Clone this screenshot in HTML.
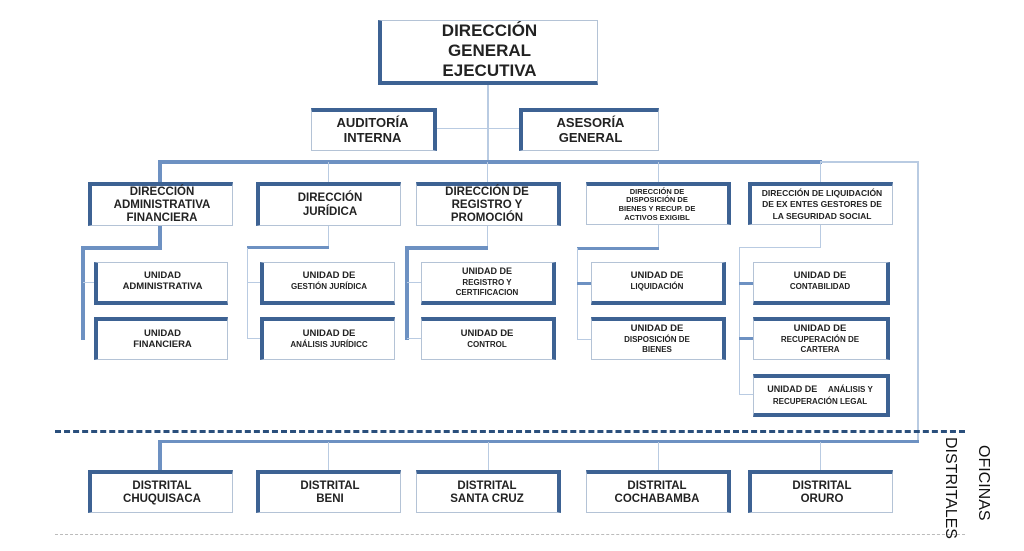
<!DOCTYPE html>
<html><head><meta charset="utf-8"><style>
body{margin:0;width:1024px;height:551px;background:#fff;position:relative;overflow:hidden;font-family:"Liberation Sans",Arial,sans-serif}
.b{position:absolute;box-sizing:border-box;border:1px solid #b4c3d6;display:flex;align-items:center;justify-content:center;text-align:center;font-weight:bold;color:#222;line-height:1.15;background:#fff}
.b>div{text-align:center}
.t{border-top:4px solid #3d6293}.l{border-left:4px solid #3d6293}.r{border-right:4px solid #3d6293}.bo{border-bottom:4px solid #3d6293}
.h{position:absolute;background:#6d91c2}
.th{position:absolute;background:#b9cbe2}
</style></head><body>
<!-- connectors -->
<div class="th" style="left:487px;top:84px;width:2px;height:78px"></div>
<div class="th" style="left:436px;top:128px;width:83px;height:1px"></div>
<div class="h" style="left:158px;top:160px;width:664px;height:4px"></div>
<div class="th" style="left:820px;top:161px;width:99px;height:2px"></div>
<div class="th" style="left:917px;top:161px;width:2px;height:281px"></div>
<div class="h" style="left:158px;top:160px;width:4px;height:24px"></div>
<div class="th" style="left:328px;top:162px;width:1px;height:21px"></div>
<div class="th" style="left:487px;top:162px;width:1px;height:21px"></div>
<div class="th" style="left:658px;top:162px;width:1px;height:21px"></div>
<div class="th" style="left:820px;top:162px;width:1px;height:21px"></div>
<!-- col1 -->
<div class="h" style="left:158px;top:225px;width:4px;height:24px"></div>
<div class="h" style="left:81px;top:246px;width:81px;height:4px"></div>
<div class="h" style="left:81px;top:246px;width:4px;height:94px"></div>
<div class="th" style="left:83px;top:282px;width:12px;height:1px"></div>
<!-- col2 -->
<div class="th" style="left:328px;top:225px;width:1px;height:23px"></div>
<div class="h" style="left:247px;top:246px;width:82px;height:3px"></div>
<div class="th" style="left:247px;top:248px;width:1px;height:91px"></div>
<div class="th" style="left:247px;top:282px;width:13px;height:1px"></div>
<div class="th" style="left:247px;top:338px;width:13px;height:1px"></div>
<!-- col3 -->
<div class="th" style="left:487px;top:225px;width:1px;height:23px"></div>
<div class="h" style="left:405px;top:246px;width:83px;height:4px"></div>
<div class="h" style="left:405px;top:246px;width:4px;height:94px"></div>
<div class="th" style="left:407px;top:282px;width:14px;height:1px"></div>
<div class="th" style="left:407px;top:338px;width:14px;height:1px"></div>
<!-- col4 -->
<div class="th" style="left:658px;top:225px;width:1px;height:23px"></div>
<div class="h" style="left:577px;top:247px;width:82px;height:3px"></div>
<div class="th" style="left:577px;top:248px;width:1px;height:92px"></div>
<div class="h" style="left:577px;top:282px;width:15px;height:3px"></div>
<div class="th" style="left:577px;top:339px;width:15px;height:1px"></div>
<!-- col5 -->
<div class="th" style="left:820px;top:225px;width:1px;height:23px"></div>
<div class="th" style="left:739px;top:247px;width:82px;height:1px"></div>
<div class="th" style="left:739px;top:247px;width:1px;height:148px"></div>
<div class="h" style="left:739px;top:282px;width:15px;height:3px"></div>
<div class="h" style="left:739px;top:337px;width:15px;height:3px"></div>
<div class="th" style="left:739px;top:394px;width:15px;height:1px"></div>
<!-- dashed lines -->
<div style="position:absolute;left:55px;top:430px;width:910px;height:0;border-top:3px dashed #2a4f7c"></div>
<div style="position:absolute;left:55px;top:534px;width:910px;height:0;border-top:1px dashed #bbb"></div>
<!-- bottom connectors -->
<div class="h" style="left:158px;top:440px;width:761px;height:3px"></div>
<div class="h" style="left:158px;top:440px;width:4px;height:31px"></div>
<div class="th" style="left:328px;top:442px;width:1px;height:29px"></div>
<div class="th" style="left:488px;top:442px;width:1px;height:29px"></div>
<div class="th" style="left:658px;top:442px;width:1px;height:29px"></div>
<div class="th" style="left:820px;top:442px;width:1px;height:29px"></div>

<!-- boxes -->
<div class="b l bo" style="left:378px;top:20px;width:220px;height:65px;font-size:17px;line-height:1.18"><div>DIRECCIÓN<br>GENERAL<br>EJECUTIVA</div></div>
<div class="b t r" style="left:311px;top:108px;width:126px;height:43px;font-size:13px"><div>AUDITORÍA<br>INTERNA</div></div>
<div class="b t l" style="left:519px;top:108px;width:140px;height:43px;font-size:13px"><div>ASESORÍA<br>GENERAL</div></div>

<div class="b t l" style="left:88px;top:182px;width:145px;height:44px;font-size:11.5px"><div>DIRECCIÓN<br>ADMINISTRATIVA<br>FINANCIERA</div></div>
<div class="b t l" style="left:256px;top:182px;width:145px;height:44px;font-size:11.5px"><div>DIRECCIÓN<br>JURÍDICA</div></div>
<div class="b t r" style="left:416px;top:182px;width:145px;height:44px;font-size:11.5px"><div>DIRECCIÓN DE<br>REGISTRO Y<br>PROMOCIÓN</div></div>
<div class="b t r" style="left:586px;top:182px;width:145px;height:43px;font-size:7.5px"><div>DIRECCIÓN DE<br>DISPOSICIÓN DE<br>BIENES Y RECUP. DE<br>ACTIVOS EXIGIBL</div></div>
<div class="b t l" style="left:748px;top:182px;width:145px;height:43px;font-size:8.5px;line-height:1.35"><div>DIRECCIÓN DE LIQUIDACIÓN<br>DE EX ENTES GESTORES DE<br>LA SEGURIDAD SOCIAL</div></div>

<div class="b l bo" style="left:94px;top:262px;width:134px;height:43px;font-size:9.5px"><div>UNIDAD<br>ADMINISTRATIVA</div></div>
<div class="b l t" style="left:94px;top:317px;width:134px;height:43px;font-size:9.5px"><div>UNIDAD<br>FINANCIERA</div></div>
<div class="b l bo" style="left:260px;top:262px;width:135px;height:43px;font-size:9.5px"><div>UNIDAD DE<br><span style="font-size:8px">GESTIÓN JURÍDICA</span></div></div>
<div class="b l t" style="left:260px;top:317px;width:135px;height:43px;font-size:9.5px"><div>UNIDAD DE<br><span style="font-size:8px">ANÁLISIS JURÍDICC</span></div></div>
<div class="b r bo" style="left:421px;top:262px;width:135px;height:43px;font-size:9px"><div>UNIDAD DE<br><span style="font-size:8px">REGISTRO Y<br>CERTIFICACION</span></div></div>
<div class="b r t" style="left:421px;top:317px;width:135px;height:43px;font-size:9.5px"><div>UNIDAD DE<br><span style="font-size:8px">CONTROL</span></div></div>
<div class="b r bo" style="left:591px;top:262px;width:135px;height:43px;font-size:9.5px"><div>UNIDAD DE<br><span style="font-size:8px">LIQUIDACIÓN</span></div></div>
<div class="b r t" style="left:591px;top:317px;width:135px;height:43px;font-size:9.5px"><div>UNIDAD DE<br><span style="font-size:8px">DISPOSICIÓN DE<br>BIENES</span></div></div>
<div class="b r bo" style="left:753px;top:262px;width:137px;height:43px;font-size:9.5px"><div>UNIDAD DE<br><span style="font-size:8px">CONTABILIDAD</span></div></div>
<div class="b r t" style="left:753px;top:317px;width:137px;height:43px;font-size:9.5px"><div>UNIDAD DE<br><span style="font-size:8px">RECUPERACIÓN DE<br>CARTERA</span></div></div>
<div class="b r bo t" style="left:753px;top:374px;width:137px;height:43px;font-size:8px;line-height:1.5"><div><span style="font-size:9px">UNIDAD DE</span>&nbsp;&nbsp;&nbsp;&nbsp; ANÁLISIS Y<br>RECUPERACIÓN LEGAL</div></div>

<div class="b t l" style="left:88px;top:470px;width:145px;height:43px;font-size:11.5px"><div>DISTRITAL<br>CHUQUISACA</div></div>
<div class="b t l" style="left:256px;top:470px;width:145px;height:43px;font-size:11.5px"><div>DISTRITAL<br>BENI</div></div>
<div class="b t r" style="left:416px;top:470px;width:145px;height:43px;font-size:11.5px"><div>DISTRITAL<br>SANTA CRUZ</div></div>
<div class="b t r" style="left:586px;top:470px;width:145px;height:43px;font-size:11.5px"><div>DISTRITAL<br>COCHABAMBA</div></div>
<div class="b t l" style="left:748px;top:470px;width:145px;height:43px;font-size:11.5px"><div>DISTRITAL<br>ORURO</div></div>

<div style="position:absolute;left:938px;top:437px;width:62px;height:92px;writing-mode:vertical-rl;font-family:'Liberation Sans Narrow','Liberation Sans',sans-serif;font-size:16px;line-height:33px;color:#111;text-align:center">OFICINAS<br>DISTRITALES</div>
</body></html>
